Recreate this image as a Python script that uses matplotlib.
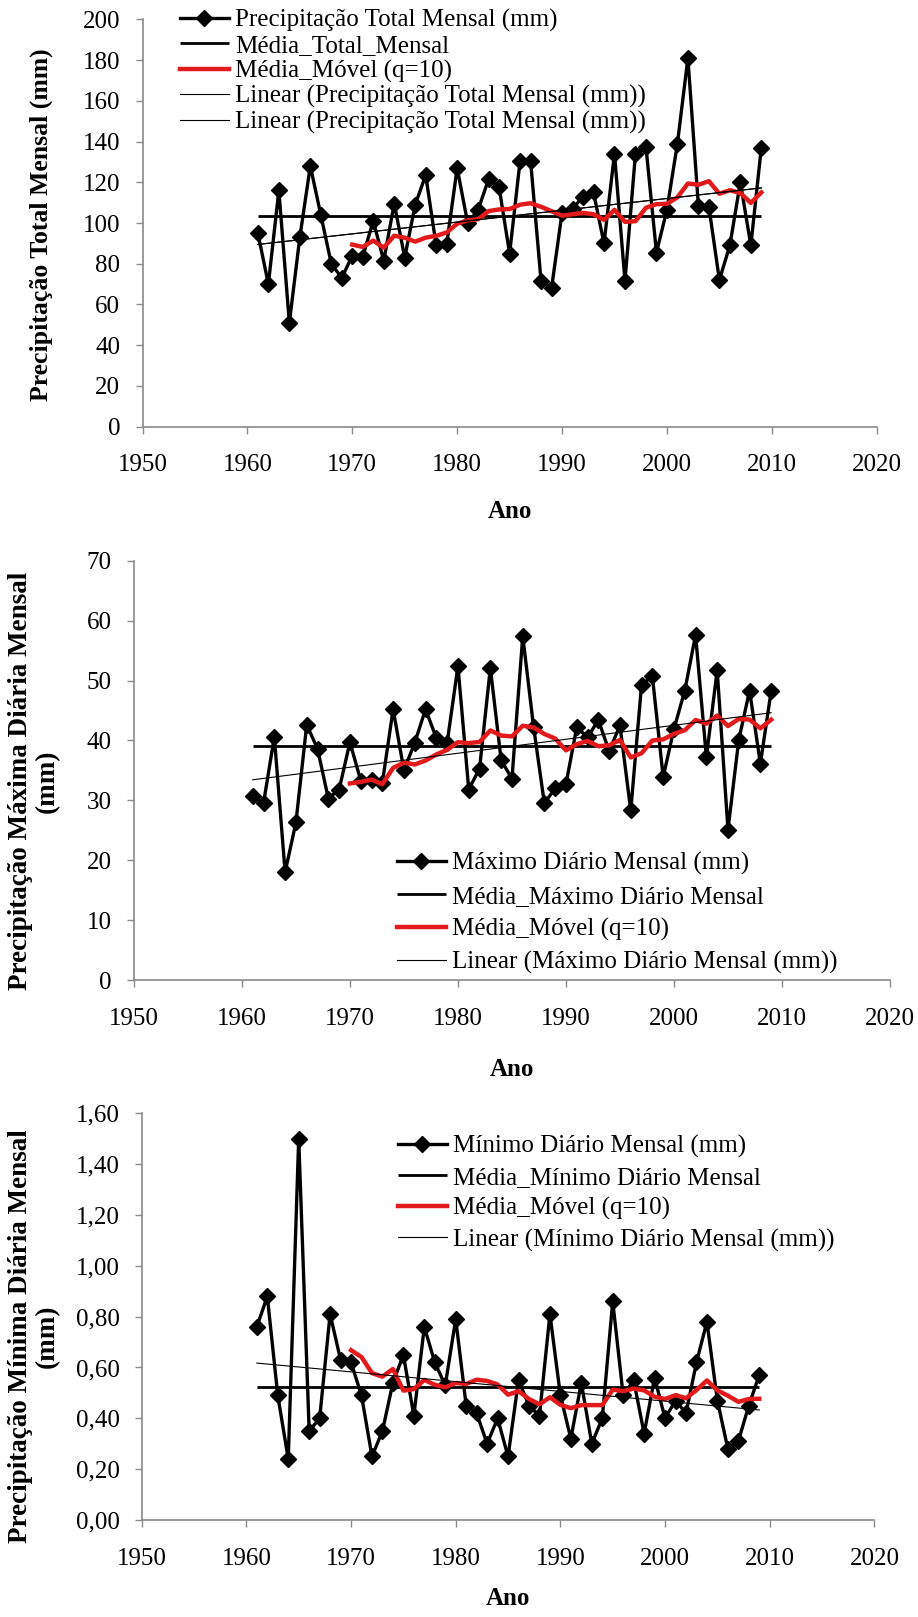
import numpy as np
import pandas as pd
import matplotlib
matplotlib.use('Agg')
import matplotlib.pyplot as plt
from matplotlib.ticker import FuncFormatter, MultipleLocator

plt.rcParams.update({'font.family': 'Liberation Serif', 'font.size': 18})

# DADOS
anos = np.arange(1961, 2010)

total_mensal = [95, 70, 116, 51, 93, 128, 104, 80, 73, 84,
                83.5, 101, 81.5, 109.5, 83, 109, 123.5, 89, 89.5, 127,
                100, 106.5, 121.5, 117.5, 85, 130.5, 130.5, 71.5, 68, 105,
                107, 113, 115, 90, 134, 71.5, 134, 137.5, 85.5, 106.5,
                139, 181, 108.5, 108, 72, 89, 120, 89, 137]

maximo_diario = [30.7, 29.5, 40.6, 18.0, 26.3, 42.6, 38.6, 30.3, 31.8, 39.7,
                 33.3, 33.4, 32.9, 45.2, 35.0, 39.6, 45.2, 40.4, 39.6, 52.4,
                 31.8, 35.3, 52.1, 36.7, 33.6, 57.4, 42.3, 29.5, 32.0, 32.7,
                 42.2, 40.5, 43.4, 38.2, 42.5, 28.3, 49.3, 50.7, 33.9, 41.9,
                 48.3, 57.6, 37.2, 51.7, 25.1, 40.1, 48.3, 36.1, 48.3]

minimo_diario = [0.76, 0.88, 0.49, 0.24, 1.50, 0.35, 0.40, 0.81, 0.63, 0.62,
                 0.49, 0.25, 0.35, 0.54, 0.65, 0.41, 0.76, 0.62, 0.53, 0.79,
                 0.45, 0.42, 0.30, 0.40, 0.25, 0.55, 0.45, 0.41, 0.81, 0.49,
                 0.32, 0.54, 0.30, 0.40, 0.86, 0.49, 0.55, 0.34, 0.56, 0.40,
                 0.47, 0.42, 0.62, 0.78, 0.47, 0.28, 0.31, 0.45, 0.57]

nomes_total = ['Precipitação Total Mensal (mm)', 'Média_Total_Mensal',
               'Média_Móvel (q=10)', 'Linear (Precipitação Total Mensal (mm))',
               'Linear (Precipitação Total Mensal (mm))']
nomes_max = ['Máximo Diário Mensal (mm)', 'Média_Máximo Diário Mensal',
             'Média_Móvel (q=10)', 'Linear (Máximo Diário Mensal (mm))']
nomes_min = ['Mínimo Diário Mensal (mm)', 'Média_Mínimo Diário Mensal',
             'Média_Móvel (q=10)', 'Linear (Mínimo Diário Mensal (mm))']

# FIGURA ( em px )
W, H = 918, 1617
fig = plt.figure(figsize=(W / 100, H / 100), dpi=100)
cinza = '#8a8a8a'


def caixa(l, t, r, b):
    return [l / W, 1 - b / H, (r - l) / W, (b - t) / H]


# UM PAINEL
def painel(rect, valores, nomes, ymax, ystep, leg_xy, leg_size, leg_space, fmt=None):
    ax = fig.add_axes(rect)
    valores = np.array(valores)
    media_movel = pd.Series(valores).rolling(10).mean()
    coef = np.polyfit(anos, valores, 1)
    tendencia = np.polyval(coef, anos)

    ax.plot(anos, valores, color='black', lw=2.4, marker='D', ms=8,
            label=nomes[0], zorder=2)
    ax.hlines(valores.mean(), anos[0], anos[-1], color='black', lw=2.0,
              label=nomes[1], zorder=2)
    ax.plot(anos, media_movel, color='#e31a1c', lw=3.2, label=nomes[2], zorder=3)
    for nome in nomes[3:]:
        ax.plot(anos, tendencia, color='black', lw=0.8, label=nome, zorder=4)

    ax.set_xlim(1950, 2020)
    ax.set_ylim(0, ymax)
    ax.xaxis.set_major_locator(MultipleLocator(10))
    ax.yaxis.set_major_locator(MultipleLocator(ystep))
    if fmt:
        ax.yaxis.set_major_formatter(FuncFormatter(fmt))

    for s in ['top', 'right']:
        ax.spines[s].set_visible(False)
    for s in ['left', 'bottom']:
        ax.spines[s].set_color(cinza)
        ax.spines[s].set_linewidth(1.2)
    ax.tick_params(axis='both', direction='out', length=5, width=1.0, color=cinza,
                   labelsize=18, labelcolor='black')
    ax.tick_params(axis='x', pad=15)
    ax.tick_params(axis='y', pad=11)

    ax.legend(loc='upper left', bbox_to_anchor=(leg_xy[0] / W, 1 - leg_xy[1] / H),
              bbox_transform=fig.transFigure, frameon=False, fontsize=leg_size,
              borderpad=0, borderaxespad=0, labelspacing=leg_space,
              handlelength=1.95, handletextpad=0.25, numpoints=1)
    return ax


ax1 = painel(caixa(142.5, 19.3, 876.7, 426.7), total_mensal, nomes_total, 200, 20,
             (180, 9), 18, 0.1)
ax2 = painel(caixa(133.9, 560.7, 890.0, 980.0), maximo_diario, nomes_max, 70, 10,
             (397, 852), 18, 0.4)
ax3 = painel(caixa(141.7, 1113.3, 874.4, 1520.0), minimo_diario, nomes_min, 1.6, 0.2,
             (398, 1135), 18, 0.33,
             fmt=lambda v, p: '{:.2f}'.format(v).replace('.', ','))

# TITULOS DOS EIXOS
fig.text(41.7 / W, 1 - 225 / H, 'Precipitação Total Mensal (mm)', rotation=90,
         ha='center', va='center', fontsize=18.5, fontweight='bold')
fig.text(34 / W, 1 - 781 / H, 'Precipitação Máxima Diária Mensal\n(mm)', rotation=90,
         ha='center', va='center', ma='center', fontsize=19.5, fontweight='bold',
         linespacing=1.1)
fig.text(34 / W, 1 - 1336 / H, 'Precipitação Mínima Diária Mensal\n(mm)', rotation=90,
         ha='center', va='center', ma='center', fontsize=19.5, fontweight='bold',
         linespacing=1.1)

for y, xc in [(512, 509.6), (1069, 512), (1598, 508)]:
    fig.text(xc / W, 1 - y / H, 'Ano', ha='center', va='center', fontsize=18,
             fontweight='bold')

fig.savefig('out.png', dpi=100)
